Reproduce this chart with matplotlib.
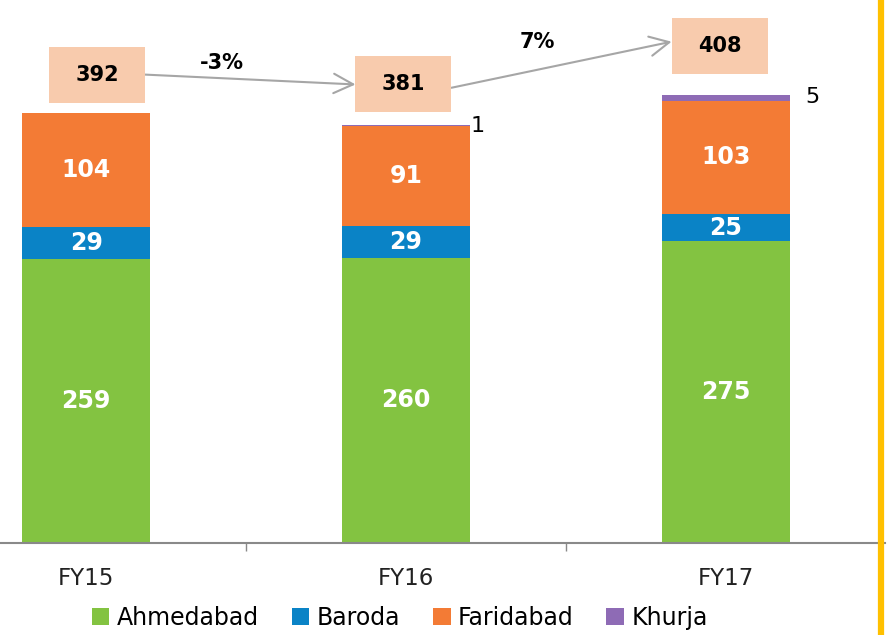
import matplotlib
matplotlib.use("Agg")
import matplotlib.pyplot as plt
from matplotlib.patches import Rectangle, Patch
from matplotlib.lines import Line2D
import numpy as np

categories = ["FY15", "FY16", "FY17"]
ahmedabad = [259, 260, 275]
baroda = [29, 29, 25]
faridabad = [104, 91, 103]
khurja = [0, 1, 5]
totals = [392, 381, 408]
growth = ["-3%", "7%"]
series_names = ["Ahmedabad", "Baroda", "Faridabad", "Khurja"]

colors = ["#83C341", "#0A83C6", "#F37B35", "#8E6BB5"]

fig = plt.figure(figsize=(8.88, 6.35), dpi=100)
ax = fig.add_axes([0, 1 - 543 / 635, 885 / 888, 543 / 635])

x = np.arange(len(categories))
width = 0.4
series = [ahmedabad, baroda, faridabad, khurja]
bottom = np.zeros(len(categories))
for vals, c in zip(series, colors):
    ax.bar(x, vals, width, bottom=bottom, color=c, edgecolor="none")
    bottom = bottom + np.array(vals)

ax.set_xlim(-0.269, 2.497)
ax.set_ylim(0, 495)

# inside labels
for si in range(3):
    bot = np.zeros(3)
    for k in range(si):
        bot = bot + np.array(series[k])
    for i in range(3):
        v = series[si][i]
        ax.text(x[i], bot[i] + v / 2, str(v), ha="center", va="center",
                color="white", fontsize=17, fontweight="bold")

# Khurja outside labels (layout offsets)
khurja_dx = [0.0, 0.225, 0.27]
for i in range(3):
    if khurja[i] > 0:
        ax.text(x[i] + khurja_dx[i], totals[i] - 1, str(khurja[i]),
                ha="center", va="center", color="black", fontsize=16)

# total boxes (layout positions)
box_cx = [0.034, 0.992, 1.98]
box_cy = [427, 418, 453]
box_w = 0.3
box_h = 51
for i in range(3):
    cx, cy = box_cx[i], box_cy[i]
    ax.add_patch(Rectangle((cx - box_w / 2, cy - box_h / 2), box_w, box_h,
                           facecolor="#F8CBAD", edgecolor="none", zorder=3))
    ax.text(cx, cy, str(totals[i]), ha="center", va="center", fontsize=15,
            fontweight="bold", color="black", zorder=4)

# arrows
arrow_dy = [(0, 0), (-3, 4)]
for i in range(2):
    x0, y0 = box_cx[i], box_cy[i]
    x1, y1 = box_cx[i + 1], box_cy[i + 1]
    ax.annotate("", xy=(x1 - box_w / 2, y1 + arrow_dy[i][1]),
                xytext=(x0 + box_w / 2, y0 + arrow_dy[i][0]),
                arrowprops=dict(arrowstyle="->,head_length=0.7,head_width=0.35",
                                color="#A6A6A6", lw=1.5, shrinkA=0, shrinkB=0,
                                mutation_scale=20),
                zorder=2)
pct_pos = [(0.425, 438), (1.41, 457)]
for (px, py), g in zip(pct_pos, growth):
    ax.text(px, py, g, ha="center", va="center", fontsize=15,
            fontweight="bold", color="black")

# axes styling
for s in ["top", "right", "left"]:
    ax.spines[s].set_visible(False)
ax.spines["bottom"].set_color("#898989")
ax.spines["bottom"].set_linewidth(1.5)
ax.set_yticks([])
ax.set_xticks(x)
ax.set_xticklabels(categories, fontsize=16.5, color="#222222")
ax.tick_params(axis="x", which="major", length=0, pad=17)
ax.set_xticks([0.5, 1.5], minor=True)
ax.tick_params(axis="x", which="minor", length=6, width=1, color="#898989")

handles = [Patch(facecolor=c, edgecolor="none") for c in colors]
fig.legend(handles, series_names, loc="center", bbox_to_anchor=(0.45, 1 - 618 / 635),
           ncol=4, frameon=False, fontsize=17, handlelength=0.75, handleheight=0.75,
           handletextpad=0.3, columnspacing=1.4, borderaxespad=0)

fig.add_artist(Line2D([881 / 888, 881 / 888], [0, 1], color="#FFC000", lw=4.5,
                      transform=fig.transFigure))

fig.savefig("out.png", dpi=100)
